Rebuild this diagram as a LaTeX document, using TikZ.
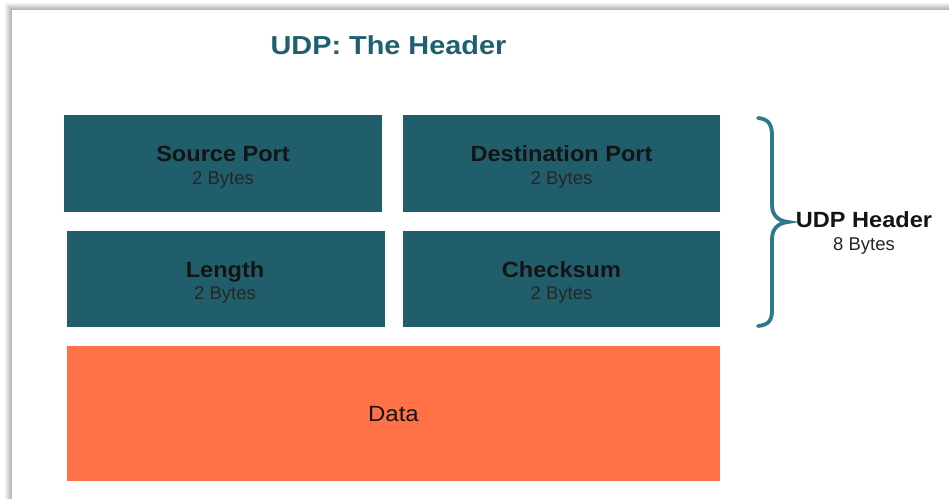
\documentclass[tikz,border=0pt]{standalone}
\usepackage{fontspec}
\usepackage{graphicx}
\setmainfont{Liberation Sans}
\definecolor{teal}{HTML}{215E6C}
\definecolor{orng}{HTML}{FF7146}
\definecolor{bracec}{HTML}{2B7A8A}
\definecolor{ttl}{HTML}{1F6070}
\newcommand{\wide}[2]{\scalebox{#1}[1]{#2}}
\tikzset{
  field/.style={fill=teal, draw=none},
  datab/.style={fill=orng, draw=none},
  bigl/.style={font=\fontsize{22}{26}\selectfont\bfseries, text=black!92, inner sep=0pt, anchor=base},
  smalll/.style={font=\fontsize{18.5}{21}\selectfont, text=black!85, inner sep=0pt, anchor=base},
}
\begin{document}
\begin{tikzpicture}[x=1pt,y=-1pt]
\useasboundingbox (0,0) rectangle (949,499);
\fill[white] (0,0) rectangle (949,499);
% shadow
\foreach \i in {0,...,6} {
  \fill[black, opacity=0.045] (5+\i,3+\i) rectangle (949,499);
}
\fill[white] (12,10) rectangle (949,499);
% title
\node[font=\fontsize{26}{30}\selectfont\bfseries, text=ttl, inner sep=0pt, anchor=base] (title) at (388.5,54) {\wide{1.11}{UDP: The Header}};
% fields
\path[field] (64,115) rectangle (382,212);
\node[bigl] (sp) at (223,161) {\wide{1.07}{Source Port}};
\node[smalll] (spb) at (223,184) {2 Bytes};
\path[field] (403,115) rectangle (720,212);
\node[bigl] (dp) at (561.5,161) {\wide{1.07}{Destination Port}};
\node[smalll] (dpb) at (561.5,184) {2 Bytes};
\path[field] (67,231) rectangle (385,327);
\node[bigl] (len) at (225,277) {\wide{1.07}{Length}};
\node[smalll] (lenb) at (225,299) {2 Bytes};
\path[field] (403,231) rectangle (720,327);
\node[bigl] (cs) at (561.5,277) {\wide{1.07}{Checksum}};
\node[smalll] (csb) at (561.5,299) {2 Bytes};
\path[datab] (67,346) rectangle (720,481);
\node[font=\fontsize{22}{25}\selectfont, text=black!92, inner sep=0pt, anchor=base] (data) at (393.5,421) {\wide{1.09}{Data}};
% brace
\draw[bracec, line width=3.8pt, line cap=round]
  (758,118) .. controls (769,119) and (772,125) .. (772,136) -- (772,205)
  .. controls (772,215) and (778,221) .. (788,222)
  .. controls (778,223) and (772,229) .. (772,239) -- (772,310)
  .. controls (772,320) and (769,325) .. (758,326);
\node[bigl] (hdr) at (864,227) {\wide{1.07}{UDP Header}};
\node[smalll] (hdrb) at (864,250) {8 Bytes};
\end{tikzpicture}
\end{document}
